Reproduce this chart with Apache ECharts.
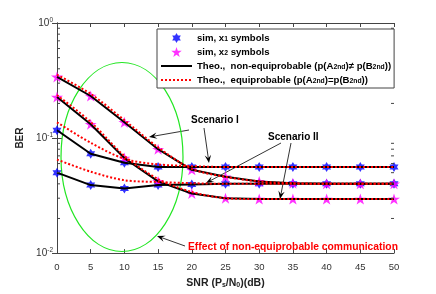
<!DOCTYPE html>
<html><head><meta charset="utf-8">
<script src="https://cdn.jsdelivr.net/npm/echarts@6/dist/echarts.min.js"></script>
<style>html,body{margin:0;padding:0;background:#fff}#c{width:436px;height:294px}</style>
</head><body><div id="c"></div>
<script>
// ---- data ----
const snr = [0, 5, 10, 15, 20, 25, 30, 35, 40, 45, 50];
// Scenario I
const s1x1NonEq = [0.117, 0.073, 0.061, 0.056, 0.056, 0.056, 0.056, 0.056, 0.056, 0.056, 0.056];
const s1x1Eq    = [0.137, 0.091, 0.066, 0.059, 0.057, 0.056, 0.056, 0.056, 0.056, 0.056, 0.056];
const s1x2NonEq = [0.34, 0.232, 0.137, 0.080, 0.053, 0.046, 0.042, 0.0405, 0.040, 0.040, 0.040];
const s1x2Eq    = [0.355, 0.242, 0.143, 0.083, 0.054, 0.046, 0.042, 0.0405, 0.040, 0.040, 0.040];
// Scenario II
const s2x1NonEq = [0.050, 0.039, 0.0365, 0.039, 0.0395, 0.040, 0.040, 0.040, 0.040, 0.040, 0.040];
const s2x1Eq    = [0.065, 0.051, 0.043, 0.0415, 0.0405, 0.040, 0.040, 0.040, 0.040, 0.040, 0.040];
const s2x2NonEq = [0.227, 0.132, 0.067, 0.042, 0.033, 0.030, 0.0295, 0.0295, 0.0295, 0.0295, 0.0295];
const s2x2Eq    = [0.236, 0.138, 0.070, 0.044, 0.034, 0.030, 0.0295, 0.0295, 0.0295, 0.0295, 0.0295];
// simulation points
const simX1 = [s1x1NonEq, s2x1NonEq];
const simX2 = [s1x2NonEq, s2x2NonEq];
// tick values
const xTicks = {min: 0, max: 50, interval: 5};
const minorTickVals = [0.02,0.03,0.04,0.05,0.06,0.07,0.08,0.09,0.2,0.3,0.4,0.5,0.6,0.7,0.8,0.9];

const names = {
  x1: 'sim, x1 symbols',
  x2: 'sim, x2 symbols',
  neq: 'Theo., non-equiprobable',
  eq: 'Theo., equiprobable'
};
const legendRich = {
  [names.x1]: '{a|sim, x}{s|1}{a| symbols}',
  [names.x2]: '{a|sim, x}{s|2}{a| symbols}',
  [names.neq]: '{a|Theo.,  non-equiprobable (p(A}{s|2nd}{a|)\u2260 p(B}{s|2nd}{a|))}',
  [names.eq]: '{a|Theo.,  equiprobable (p(A}{s|2nd}{a|)=p(B}{s|2nd}{a|))}'
};

const FONT = '"Liberation Sans", Arial, Helvetica, sans-serif';
const HEX = 'path://M100,0L128.9,50L186.6,50L157.7,100L186.6,150L128.9,150L100,200L71.1,150L13.4,150L42.3,100L13.4,50L71.1,50Z';
const PENT = 'path://M100,0L122.5,69.1L195.1,69.1L136.3,111.8L158.8,180.9L100,138.2L41.2,180.9L63.7,111.8L4.9,69.1L77.5,69.1Z';

const pairs = arr => snr.map((x, i) => [x, arr[i]]);

const series = [];
series.push({type: 'scatter', name: names.x1, symbol: HEX, symbolSize: [9, 10], z: 2,
  itemStyle: {color: '#0000ff'}, data: [].concat(...simX1.map(pairs))});
series.push({type: 'scatter', name: names.x2, symbol: PENT, symbolSize: [12, 11], z: 2,
  itemStyle: {color: '#ff00ff'}, data: [].concat(...simX2.map(pairs))});
[s1x1NonEq, s1x2NonEq, s2x1NonEq, s2x2NonEq].forEach(a => series.push({
  type: 'line', name: names.neq, symbol: 'none', z: 3, animation: false,
  lineStyle: {color: '#000', width: 2}, itemStyle: {color: 'rgba(0,0,0,0)'}, data: pairs(a)}));
[s1x1Eq, s1x2Eq, s2x1Eq, s2x2Eq].forEach(a => series.push({
  type: 'line', name: names.eq, symbol: 'none', z: 4, smooth: 0.3, animation: false,
  lineStyle: {color: '#ff0000', width: 2, type: [2, 2]}, itemStyle: {color: 'rgba(0,0,0,0)'}, data: pairs(a)}));
// minor log ticks on left & right edges
series.push({type: 'custom', silent: true, z: 5, data: minorTickVals.map(v => [0, v]),
  renderItem: (params, api) => {
    const y = api.coord([0, api.value(1)])[1];
    const cs = params.coordSys;
    return {type: 'group', children: [
      {type: 'line', shape: {x1: cs.x, y1: y, x2: cs.x + 3, y2: y}, style: {stroke: '#444', lineWidth: 1}},
      {type: 'line', shape: {x1: cs.x + cs.width, y1: y, x2: cs.x + cs.width - 3, y2: y}, style: {stroke: '#444', lineWidth: 1}}
    ]};
  }});

function arrow(x1, y1, x2, y2) {
  const a = Math.atan2(y2 - y1, x2 - x1), c = Math.cos(a), s = Math.sin(a);
  const L = 8, W = 3.2;
  const bx = x2 - L * c, by = y2 - L * s;
  const nx = x2 - 0.6 * L * c, ny = y2 - 0.6 * L * s;
  return {type: 'group', z: 20, children: [
    {type: 'line', shape: {x1, y1, x2: nx, y2: ny}, style: {stroke: '#000', lineWidth: 0.8}},
    {type: 'polygon', shape: {points: [[x2, y2], [bx - W * s, by + W * c], [nx, ny], [bx + W * s, by - W * c]]},
     style: {fill: '#000'}}
  ]};
}

const axisLine = {show: true, lineStyle: {color: '#444', width: 1}};
const hiddenSym = {opacity: 0, color: 'rgba(0,0,0,0)', borderWidth: 0};
const option = {
  animation: false,
  backgroundColor: '#fff',
  textStyle: {fontFamily: FONT},
  grid: {left: 57, right: 42, top: 23, bottom: 39, containLabel: false},
  legend: {
    orient: 'vertical', left: 157, top: 29, z: 10,
    padding: [3, 3, 3, 3], itemGap: 3, itemWidth: 31, itemHeight: 10,
    backgroundColor: '#fff', borderColor: '#444', borderWidth: 1, borderRadius: 0,
    data: [names.x1, names.x2, {name: names.neq, itemStyle: hiddenSym}, {name: names.eq, itemStyle: hiddenSym}],
    formatter: n => legendRich[n],
    textStyle: {fontFamily: FONT, fontSize: 9.6, fontWeight: 'bold', color: '#000',
      rich: {a: {fontFamily: FONT, fontSize: 9.6, fontWeight: 'bold', color: '#000', lineHeight: 10},
             s: {fontFamily: FONT, fontSize: 6.8, fontWeight: 'bold', color: '#000', lineHeight: 6, verticalAlign: 'bottom', padding: [4, 0, 0, 0]}}}
  },
  xAxis: [{
    type: 'value', min: xTicks.min, max: xTicks.max, interval: xTicks.interval,
    axisLine, splitLine: {show: false},
    axisTick: {inside: true, length: 4, lineStyle: {color: '#444'}},
    axisLabel: {margin: 9, fontSize: 9.5, color: '#333', fontFamily: FONT},
    name: '{b|SNR (P}{s|s}{b|/N}{s|0}{b|)(dB)}', nameLocation: 'middle', nameGap: 21,
    nameTextStyle: {rich: {
      b: {fontFamily: FONT, fontSize: 10.5, fontWeight: 'bold', color: '#222', lineHeight: 12},
      s: {fontFamily: FONT, fontSize: 7, fontWeight: 'bold', color: '#222', lineHeight: 7, verticalAlign: 'bottom', padding: [5, 0, 0, 0]}}}
  }, {
    type: 'value', position: 'top', min: xTicks.min, max: xTicks.max, interval: xTicks.interval,
    axisLine, splitLine: {show: false}, axisLabel: {show: false},
    axisTick: {inside: true, length: 4, lineStyle: {color: '#444'}}
  }],
  yAxis: [{
    type: 'log', logBase: 10, min: 0.01, max: 1,
    axisLine, splitLine: {show: false},
    axisTick: {inside: true, length: 5, lineStyle: {color: '#444'}},
    axisLabel: {margin: 4, color: '#333', fontFamily: FONT,
      formatter: v => '{b|10}{s|' + Math.round(Math.log10(v)) + '}',
      rich: {b: {fontFamily: FONT, fontSize: 10, color: '#333', lineHeight: 12},
             s: {fontFamily: FONT, fontSize: 6.5, color: '#333', lineHeight: 6, verticalAlign: 'top', padding: [0, 0, 5, 0]}}},
    name: 'BER', nameLocation: 'middle', nameGap: 29,
    nameTextStyle: {fontFamily: FONT, fontSize: 10, fontWeight: 'bold', color: '#222'}
  }, {
    type: 'log', logBase: 10, min: 0.01, max: 1, position: 'right',
    axisLine, splitLine: {show: false}, axisLabel: {show: false},
    axisTick: {inside: true, length: 5, lineStyle: {color: '#444'}}
  }],
  series,
  graphic: [
    {type: 'ellipse', z: 1, silent: true, shape: {cx: 122, cy: 157, rx: 61, ry: 94.5},
     style: {fill: 'none', stroke: '#22e622', lineWidth: 1.2}},
    {type: 'text', z: 20, left: 191, top: 115, style: {text: 'Scenario I', font: 'bold 10px ' + FONT, fill: '#000'}},
    {type: 'text', z: 20, left: 268, top: 132, style: {text: 'Scenario II', font: 'bold 10px ' + FONT, fill: '#000'}},
    {type: 'text', z: 20, left: 188, top: 242, style: {text: 'Effect of non-equiprobable communication', font: 'bold 10.3px ' + FONT, fill: '#ff0000'}},
    arrow(189, 130, 149, 137),
    arrow(204, 128, 209, 163),
    arrow(281, 143, 206, 183),
    arrow(291, 143, 280, 199),
    arrow(185, 246, 157, 236)
  ]
};
const chart = echarts.init(document.getElementById('c'), null, {renderer: 'canvas'});
chart.setOption(option);
</script></body></html>
